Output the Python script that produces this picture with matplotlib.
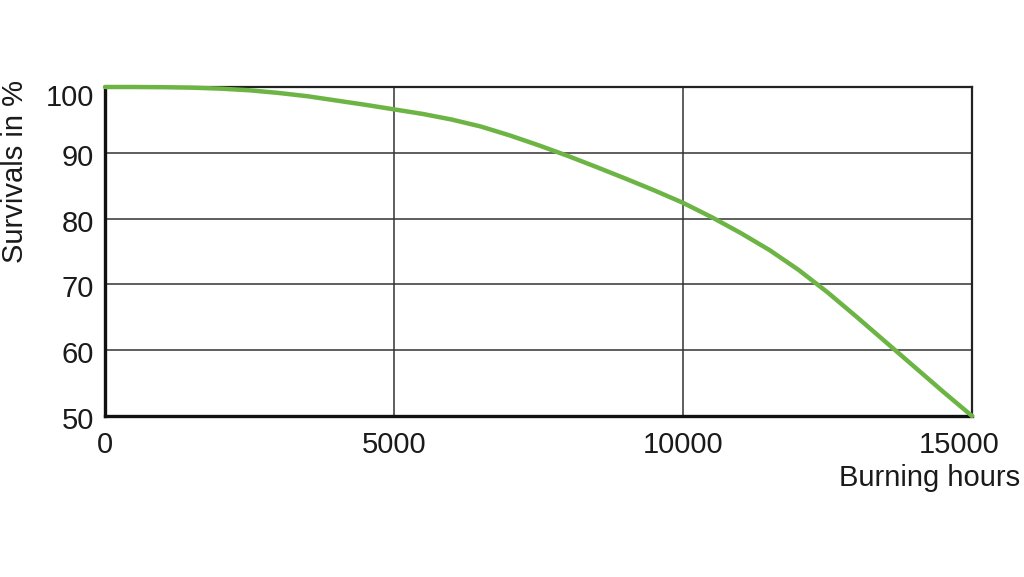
import matplotlib.pyplot as plt
import matplotlib.transforms as mtransforms
import numpy as np

plt.rcParams['font.family'] = ['Liberation Sans', 'DejaVu Sans']

# survival curve
hours = [0, 500, 1000, 1500, 2000, 2500, 3000, 3500, 4000, 4500, 5000,
         5500, 6000, 6500, 7000, 7500, 8000, 8500, 9000, 9500, 10000,
         10500, 11000, 11500, 12000, 12500, 13000, 13500, 14000, 14500, 15000]
survival = [100, 100, 99.97, 99.9, 99.75, 99.5, 99.1, 98.6, 97.95, 97.3, 96.6,
            95.9, 95.05, 94.0, 92.65, 91.15, 89.55, 87.85, 86.1, 84.3, 82.4,
            80.2, 77.8, 75.2, 72.2, 68.8, 65.1, 61.3, 57.5, 53.7, 50]

xticks = [0, 5000, 10000, 15000]
yticks = [50, 60, 70, 80, 90, 100]

fig = plt.figure(figsize=(10.24, 5.77), dpi=100)
ax = fig.add_axes([105 / 1024, 1 - 416 / 577, 867 / 1024, 329 / 577])

ax.plot(hours, survival, color='#6cb545', lw=3.2, clip_on=False, zorder=5,
        solid_capstyle='round')

ax.set_xlim(0, 15000)
ax.set_ylim(50, 100)
ax.set_xticks(xticks)
ax.set_yticks(yticks)
ax.set_xticklabels([str(t) for t in xticks])
ax.set_yticklabels([str(t) for t in yticks])
ax.tick_params(length=0, labelsize=21, colors='#1a1a1a')
ax.tick_params(axis='y', pad=8)
ax.tick_params(axis='x', pad=11)

# small nudges seen in the reference labels
ylabs = ax.get_yticklabels()
for lab in ylabs:
    lab.set_transform(lab.get_transform() +
                      mtransforms.ScaledTranslation(0, -2 / 100, fig.dpi_scale_trans))
ylabs[-1].set_transform(ylabs[-1].get_transform() +
                        mtransforms.ScaledTranslation(0, -6 / 100, fig.dpi_scale_trans))
xlabs = ax.get_xticklabels()
xlabs[-1].set_transform(xlabs[-1].get_transform() +
                        mtransforms.ScaledTranslation(-13 / 100, 0, fig.dpi_scale_trans))

ax.grid(True, color='#333333', lw=1.1)
ax.set_axisbelow(True)

for side in ['left', 'bottom']:
    ax.spines[side].set_linewidth(2.4)
    ax.spines[side].set_color('#111111')
for side in ['top', 'right']:
    ax.spines[side].set_linewidth(1.6)
    ax.spines[side].set_color('#222222')

fig.text(15 / 1024, 1 - 172 / 577, 'Survivals in %', rotation=90,
         ha='center', va='center', fontsize=21, color='#1a1a1a')
fig.text(1020 / 1024, 1 - 478 / 577, 'Burning hours', ha='right',
         va='center', fontsize=21, color='#1a1a1a')

fig.savefig('out.png', dpi=100)
